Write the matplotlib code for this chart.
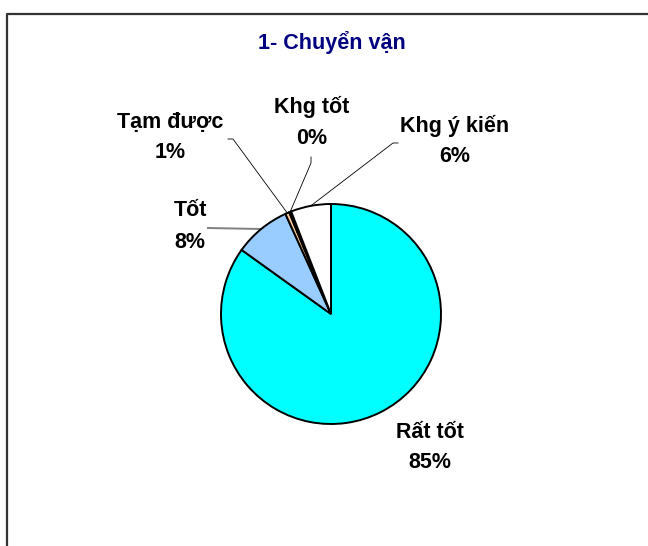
import numpy as np
import matplotlib
matplotlib.use("Agg")
import matplotlib.pyplot as plt
from matplotlib.lines import Line2D

plt.rcParams['font.family'] = ['Liberation Sans', 'DejaVu Sans']

# ---- data ----
title = "1- Chuyển vận"
categories = ["Rất tốt", "Tốt", "Tạm được", "Khg tốt", "Khg ý kiến"]
values = [84.9, 8.3, 0.6, 0.3, 5.9]
colors = ["#00FFFF", "#99CCFF", "#FFCC99", "#993300", "#FFFFFF"]

# ---- layout (pixels of the 648x546 canvas) ----
W, H = 648, 546
cx, cy, R = 331, 314, 110
FS = 15.5
# label name centre, percent centre (px)
name_pos = [(430, 433), (190, 210), (170, 123), (312, 107), (455, 126)]
pct_pos = [(430, 463), (190, 242), (170, 152), (312, 138), (455, 156)]
# leader line start points (px) and elbow points (px); None = no leader
lead_start = [None, (208, 228), (228, 139), (311, 157), (398, 143)]
lead_elbow = [None, (208, 228), (233, 139), (311, 163), (393, 143)]
lead_color = [None, "#808080", "black", "black", "black"]
lead_lw = [None, 1.4, 0.6, 0.6, 0.6]

def to_data(p):
    return ((p[0] - cx) / R, (cy - p[1]) / R)

fig = plt.figure(figsize=(W / 100, H / 100), dpi=100)
fig.patch.set_facecolor("white")

ax = fig.add_axes([(cx - R) / W, (H - cy - R) / H, 2 * R / W, 2 * R / H])
wedges, _ = ax.pie(values, colors=colors, startangle=90, counterclock=False,
                   radius=1.0, wedgeprops=dict(edgecolor="black", linewidth=1.4))
ax.set_xlim(-1, 1)
ax.set_ylim(-1, 1)
ax.set_aspect("equal")
ax.axis("off")

total = sum(values)
for i, (cat, v, w) in enumerate(zip(categories, values, wedges)):
    nx, ny = to_data(name_pos[i])
    px, py = to_data(pct_pos[i])
    ax.text(nx, ny, cat, ha="center", va="center", fontsize=FS,
            fontweight="bold", color="black", clip_on=False)
    ax.text(px, py, f"{round(v / total * 100):.0f}%", ha="center", va="center",
            fontsize=FS, fontweight="bold", color="black", clip_on=False)
    if lead_start[i] is not None:
        th = np.deg2rad((w.theta1 + w.theta2) / 2)
        mx, my = np.cos(th), np.sin(th)
        sx, sy = to_data(lead_start[i])
        ex, ey = to_data(lead_elbow[i])
        ax.plot([sx, ex, mx], [sy, ey, my], color=lead_color[i],
                lw=lead_lw[i], clip_on=False, zorder=0.5)

fig.text(332 / W, 1 - 43 / H, title, ha="center", va="center",
         fontsize=FS, fontweight="bold", color="#000080")

fig.add_artist(Line2D([7 / W, 7 / W, 1.0], [0, 1 - 14 / H, 1 - 14 / H],
                      transform=fig.transFigure, color="#333333", lw=1.6))

fig.savefig("out.png", dpi=100, facecolor="white")
